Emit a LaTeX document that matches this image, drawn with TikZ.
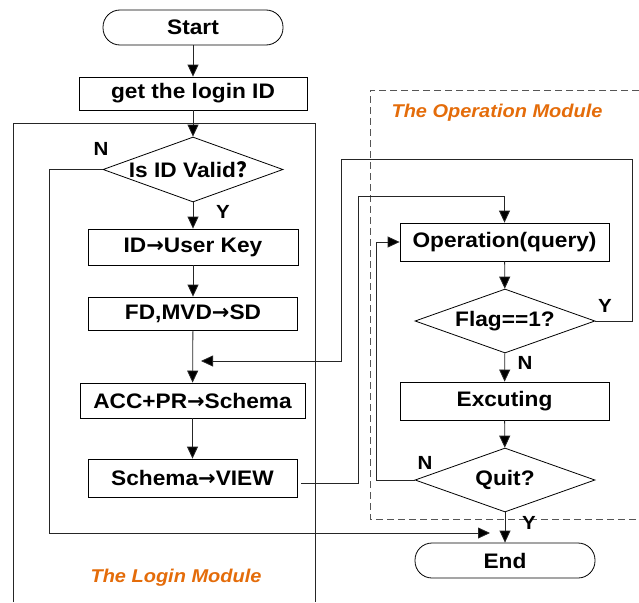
\documentclass[tikz,border=0pt]{standalone}
\usepackage{fontspec}
\setmainfont{Liberation Sans}[FakeStretch=1.08]
\newfontfamily\cjkfont{Noto Sans CJK SC}
\newfontfamily\arrowfont{DejaVu Sans}
\usetikzlibrary{arrows.meta, shapes.geometric, calc}
\definecolor{modorange}{HTML}{E46C0A}
\definecolor{lngray}{HTML}{262626}
\definecolor{dashgray}{HTML}{555555}
\newcommand{\toarr}{{\arrowfont\bfseries →}}

\begin{document}
\begin{tikzpicture}[
  x=1pt, y=-1pt,
  >={Triangle[length=12pt, width=11pt]},
  every node/.style={font=\fontsize{21}{24}\selectfont\bfseries},
  box/.style={draw, line width=0.8pt, minimum height=36pt, inner sep=0pt},
  term/.style={box, rounded corners=17pt, minimum width=180pt, minimum height=35pt},
  choice/.style={draw, diamond, line width=0.8pt, minimum width=180pt, minimum height=65pt, inner sep=0pt},
  yn/.style={font=\fontsize{19}{22}\selectfont\bfseries},
  modlabel/.style={text=modorange, font=\fontsize{18.5}{22}\selectfont\bfseries\itshape},
  link/.style={line width=0.8pt, draw=lngray, -{Triangle[length=12pt, width=11pt, fill=black]}},
]

\useasboundingbox (0,0) rectangle (639,602);

% Module frames
\draw[lngray, line width=0.8pt] (13,602) |- (315,123) -- (315,602);
\draw[dashgray, line width=0.8pt, dash pattern=on 7pt off 4pt] (639,90) -| (370,519) -- (639,519);
\node[modlabel] (loginlbl) at (176,578) {The Login Module};
\node[modlabel] (operlbl) at (497,113) {The Operation Module};

% Login column
\node[term] (start) at (193,27.5) {Start};
\node[box, minimum width=228pt, minimum height=33pt] (getid) at (193,93.5) {get the login ID};
\node[choice, label=center:{Is ID Valid{\cjkfont ？}}] (valid) at (193,169.5) {};
\node[box, minimum width=210pt] (userkey) at (193,247) {ID\toarr User Key};
\node[box, minimum width=209pt, minimum height=33pt] (fdsd) at (193,313.5) {FD,MVD\toarr SD};
\node[box, minimum width=225pt, minimum height=35pt] (accpr) at (192.5,400.5) {ACC+PR\toarr Schema};
\node[box, minimum width=209pt, minimum height=38pt] (view) at (192.5,478) {Schema\toarr VIEW};

% Operation column
\node[box, minimum width=209pt, minimum height=38pt] (oper) at (504.5,242) {Operation(query)};
\node[choice, minimum height=64pt, label=center:{Flag==1?}] (flag) at (505,321) {};
\node[box, minimum width=209pt, minimum height=38pt] (exec) at (504.5,401) {Excuting};
\node[choice, minimum height=64pt, label=center:{Quit?}] (quit) at (505,480) {};
\node[term] (stop) at (505,560.5) {End};

% free ends
\coordinate (merge) at (201,361);
\coordinate (endin) at (490,533);

% main flow
\draw[link] (start) -- (getid);
\draw[link] (getid) -- (valid);
\draw[link] (valid) -- (userkey);
\draw[link] (userkey) -- (fdsd);
\draw[link] (fdsd) -- (accpr);
\draw[link] (accpr) -- (view);
\draw[link] (oper) -- (flag);
\draw[link] (flag) -- (exec);
\draw[link] (exec) -- (quit);
\draw[link] (quit) -- (stop);

% branches
\draw[link] (valid.west) -- ++(-53,0) |- (endin);
\draw[link] ($(view.east)+(4,5)$) -- ++(57,0) |- ([yshift=26pt]oper.north) -- (oper.north);
\draw[link] (flag.east) -- ++(37,0) |- (341,159) -- (341,361) -- (merge);
\draw[link] (quit.west) -- ++(-38,0) |- (oper.west);

% Y / N marks
\node[yn] (vn) at (101,149) {N};
\node[yn] (vy) at (223,212) {Y};
\node[yn] (fy) at (605,306) {Y};
\node[yn] (fn) at (525,363) {N};
\node[yn] (qn) at (425,463) {N};
\node[yn] (qy) at (529,523) {Y};

\end{tikzpicture}
\end{document}
